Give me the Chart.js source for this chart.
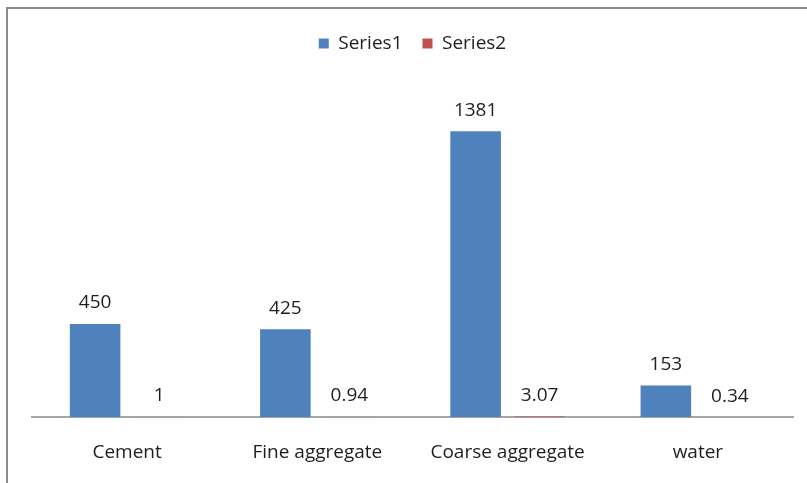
<!DOCTYPE html>
<html>
<head>
<meta charset="utf-8">
<script src="https://cdn.jsdelivr.net/npm/chart.js@4/dist/chart.umd.min.js"></script>
<style>
  html, body { margin: 0; padding: 0; background: #fff; overflow: hidden; }
  #frame {
    position: absolute; left: 6px; top: 7px; width: 900px; height: 600px;
    border-left: 2px solid #8a8a8a; border-top: 2px solid #8a8a8a;
  }
  #wrap { position: absolute; left: 0; top: 0; width: 807px; height: 483px; }
</style>
</head>
<body>
<div id="frame"></div>
<div id="wrap"><canvas id="c" width="807" height="483"></canvas></div>
<script>
// Mix components and their quantities
const categories = ["Cement", "Fine aggregate", "Coarse aggregate", "water"];
const series1 = [450, 425, 1381, 153];
const series2 = [1, 0.94, 3.07, 0.34];
const seriesNames = ["Series1", "Series2"];

const FONT = "'Open Sans', sans-serif";
const TEXT = "#1e1e1e";

// Writes each bar's value just above it
const valueLabels = {
  id: "valueLabels",
  afterDatasetsDraw(chart) {
    const ctx = chart.ctx;
    ctx.save();
    ctx.font = "19px " + FONT;
    ctx.fillStyle = TEXT;
    ctx.textAlign = "center";
    ctx.textBaseline = "middle";
    chart.data.datasets.forEach((ds, i) => {
      chart.getDatasetMeta(i).data.forEach((bar, j) => {
        ctx.fillText(String(ds.data[j]), bar.x, bar.y - 21);
      });
    });
    ctx.restore();
  }
};

// Leaves extra room between the legend and the plot
const legendGap = {
  id: "legendGap",
  beforeInit(chart) {
    const fit = chart.legend.fit;
    chart.legend.fit = function () {
      fit.call(this);
      this.height += 23;
    };
  }
};

new Chart(document.getElementById("c"), {
  type: "bar",
  data: {
    labels: categories,
    datasets: [
      { label: seriesNames[0], data: series1, backgroundColor: "#4F81BD" },
      { label: seriesNames[1], data: series2, backgroundColor: "#C0504D" }
    ]
  },
  options: {
    responsive: false,
    animation: false,
    devicePixelRatio: 1,
    layout: { padding: { left: 32, right: 14, top: 14, bottom: -5 } },
    datasets: { bar: { categoryPercentage: 0.673, barPercentage: 0.79 } },
    plugins: {
      legend: {
        position: "top",
        labels: {
          boxWidth: 10, boxHeight: 10, padding: 20,
          color: TEXT,
          font: { family: FONT, size: 19 }
        }
      },
      tooltip: { enabled: false }
    },
    scales: {
      x: {
        grid: { display: false, drawTicks: false },
        border: { color: "#a6a6a6", width: 2 },
        ticks: { color: TEXT, padding: 24, font: { family: FONT, size: 19 } }
      },
      y: {
        display: false,
        min: 0, max: 1600
      }
    }
  },
  plugins: [valueLabels, legendGap]
});
</script>
</body>
</html>
